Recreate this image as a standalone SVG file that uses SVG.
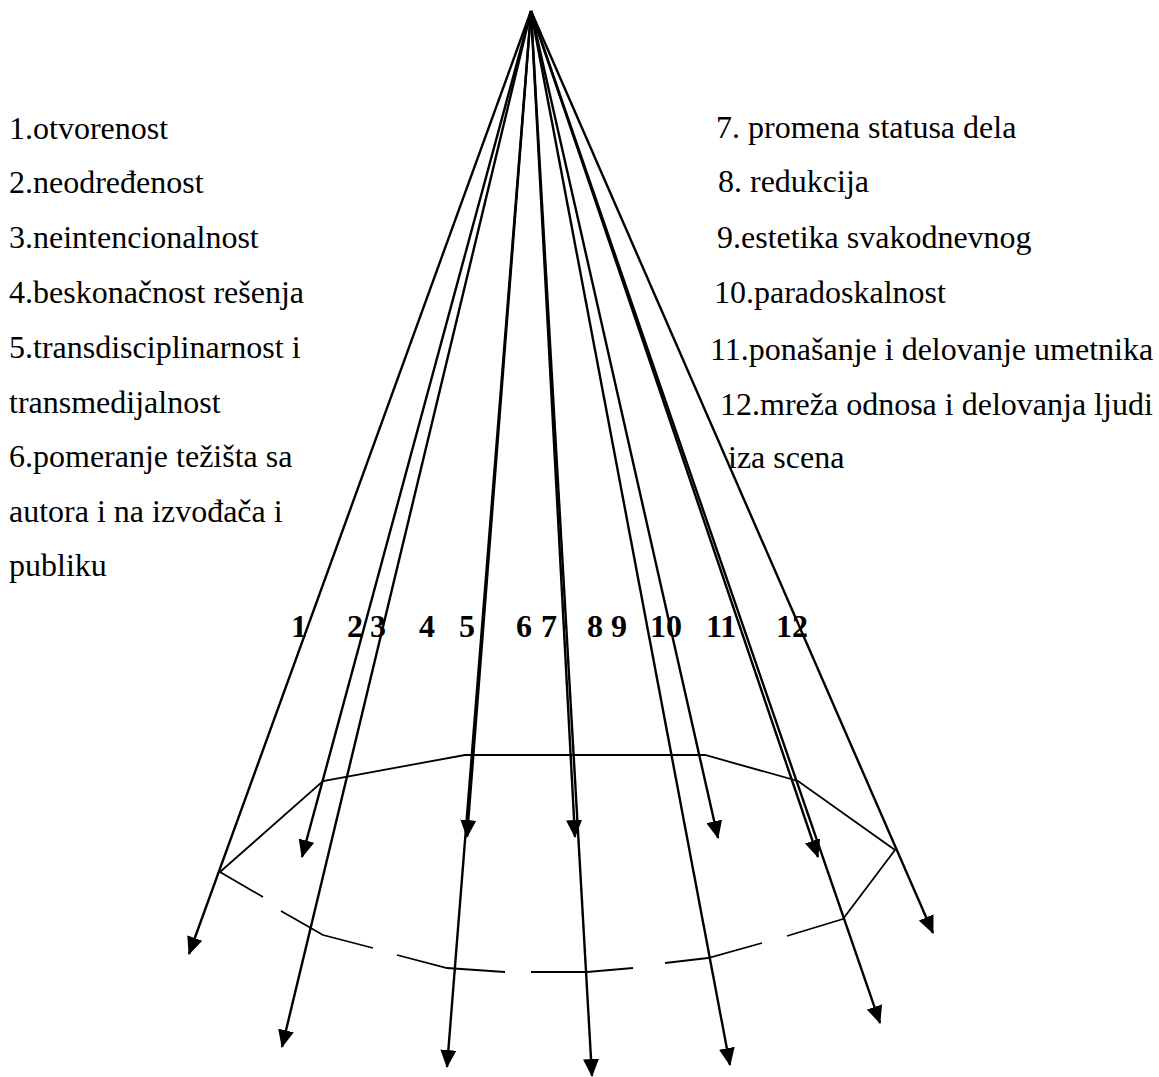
<svg xmlns="http://www.w3.org/2000/svg" width="1159" height="1077" viewBox="0 0 1159 1077">
  <style>
    .t { font-family: "Liberation Serif", "Times New Roman", serif; font-size: 32px; fill: #000; }
    .n { font-family: "Liberation Serif", "Times New Roman", serif; font-size: 32px; font-weight: bold; fill: #000; }
    .arr { stroke: #000; stroke-width: 2.4; fill: none; marker-end: url(#ah); }
    .poly { stroke: #000; stroke-width: 1.8; fill: none; stroke-linejoin: miter; }
  </style>
  <defs>
    <marker id="ah" markerUnits="userSpaceOnUse" markerWidth="18" markerHeight="16" refX="17" refY="8" orient="auto" viewBox="0 0 18 16">
      <path d="M0,0 L18,8 L0,16 z" fill="#000"/>
    </marker>
  </defs>
  <rect width="1159" height="1077" fill="#fff"/>

  <g id="labels-left">
    <g id="item-1"><text class="t" x="9" y="139">1.otvorenost</text></g>
    <g id="item-2"><text class="t" x="9" y="193">2.neodređenost</text></g>
    <g id="item-3"><text class="t" x="9" y="248">3.neintencionalnost</text></g>
    <g id="item-4"><text class="t" x="9" y="303">4.beskonačnost rešenja</text></g>
    <g id="item-5"><text class="t" x="9" y="358">5.transdisciplinarnost i</text><text class="t" x="9" y="413">transmedijalnost</text></g>
    <g id="item-6"><text class="t" x="9" y="467">6.pomeranje težišta sa</text><text class="t" x="9" y="522">autora i na izvođača i</text><text class="t" x="9" y="576">publiku</text></g>
  </g>

  <g id="labels-right">
    <g id="item-7"><text class="t" x="716" y="138">7. promena statusa dela</text></g>
    <g id="item-8"><text class="t" x="718" y="192">8. redukcija</text></g>
    <g id="item-9"><text class="t" x="717" y="248">9.estetika svakodnevnog</text></g>
    <g id="item-10"><text class="t" x="714" y="303">10.paradoskalnost</text></g>
    <g id="item-11"><text class="t" x="710" y="360">11.ponašanje i delovanje umetnika</text></g>
    <g id="item-12"><text class="t" x="720" y="415">12.mreža odnosa i delovanja ljudi</text><text class="t" x="728" y="468">iza scena</text></g>
  </g>

  <g id="numbers">
    <text class="n" x="291" y="637">1</text>
    <text class="n" x="347" y="637">2</text>
    <text class="n" x="370" y="637">3</text>
    <text class="n" x="419" y="637">4</text>
    <text class="n" x="459" y="637">5</text>
    <text class="n" x="516" y="637">6</text>
    <text class="n" x="541" y="637">7</text>
    <text class="n" x="587" y="637">8</text>
    <text class="n" x="611" y="637">9</text>
    <text class="n" x="650" y="637">10</text>
    <text class="n" x="706" y="637">11</text>
    <text class="n" x="776" y="637">12</text>
  </g>

  <g id="base">
    <path class="poly" d="M220,872 L323,781 L465,755 L705,755 L798,781 L895,850 L843,919"/>
    <path class="poly" d="M220,872 L263,897"/>
    <path class="poly" d="M281,911 L323,935 L373,948"/>
    <path class="poly" d="M397,955 L447,968 L505,972"/>
    <path class="poly" d="M531,972 L587,972 L633,968"/>
    <path class="poly" d="M665,963 L708,958 L762,943"/>
    <path class="poly" d="M787,936 L843,919"/>
  </g>

  <g id="connectors">
    <line class="arr" x1="531" y1="11" x2="189" y2="954"/>
    <line class="arr" x1="531" y1="11" x2="302" y2="857"/>
    <line class="arr" x1="531" y1="11" x2="282" y2="1047"/>
    <line class="arr" x1="531" y1="11" x2="467" y2="837"/>
    <line class="arr" x1="531" y1="11" x2="447" y2="1067"/>
    <line class="arr" x1="531" y1="11" x2="575" y2="837"/>
    <line class="arr" x1="531" y1="11" x2="592" y2="1076"/>
    <line class="arr" x1="531" y1="11" x2="718" y2="838"/>
    <line class="arr" x1="531" y1="11" x2="730" y2="1065"/>
    <line class="arr" x1="531" y1="11" x2="818" y2="857"/>
    <line class="arr" x1="531" y1="11" x2="880" y2="1023"/>
    <line class="arr" x1="531" y1="11" x2="933" y2="933"/>
  </g>
</svg>
